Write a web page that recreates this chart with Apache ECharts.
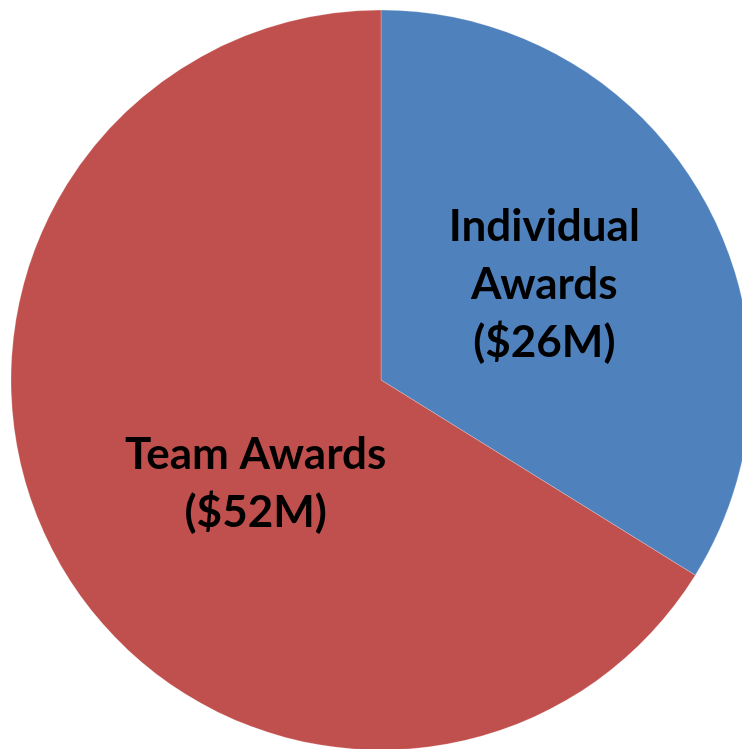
<!DOCTYPE html>
<html lang="en">
<head>
	<meta charset="UTF-8">
	<title>Awards</title>
	<script src="https://cdn.jsdelivr.net/npm/echarts@6/dist/echarts.min.js"></script>
	<style>
		html, body { margin: 0; padding: 0; background: #fff; }
	</style>
</head>
<body>
	<div id="main" style="width: 742px;height: 749px;"></div>

	<script>
		var names = ['Individual\nAwards\n($26M)', 'Team Awards\n($52M)'];
		// (labels are rounded)
		var values = [26.4, 51.6];
		var colors = ['#4F81BD', '#C0504D'];
		// nudge for each label from the default inside spot
		var labelShift = [[-1, -4], [39, 12]];

		var chartDom = document.getElementById('main');
		var myChart = echarts.init(chartDom);

		var pieData = [];
		for (var i = 0; i < names.length; i++) {
			pieData.push({
				name: names[i],
				value: values[i],
				itemStyle: { color: colors[i] }
			});
		}

		var option = {
			animation: false,
			series: [{
				type: 'pie',
				center: [381, 380],
				radius: 370,
				startAngle: 90,
				clockwise: true,
				itemStyle: {
					borderColor: 'rgba(255,255,255,0.4)',
					borderWidth: 0.6
				},
				label: {
					show: true,
					position: 'inside',
					formatter: '{b}',
					color: '#000',
					fontFamily: 'Lato',
					fontWeight: 'bold',
					fontSize: 44,
					lineHeight: 58,
					align: 'center'
				},
				labelLayout: function (params) {
					var s = labelShift[params.dataIndex];
					return { dx: s[0], dy: s[1] };
				},
				emphasis: { disabled: true },
				data: pieData
			}]
		};
		myChart.setOption(option);
	</script>
</body>
</html>
